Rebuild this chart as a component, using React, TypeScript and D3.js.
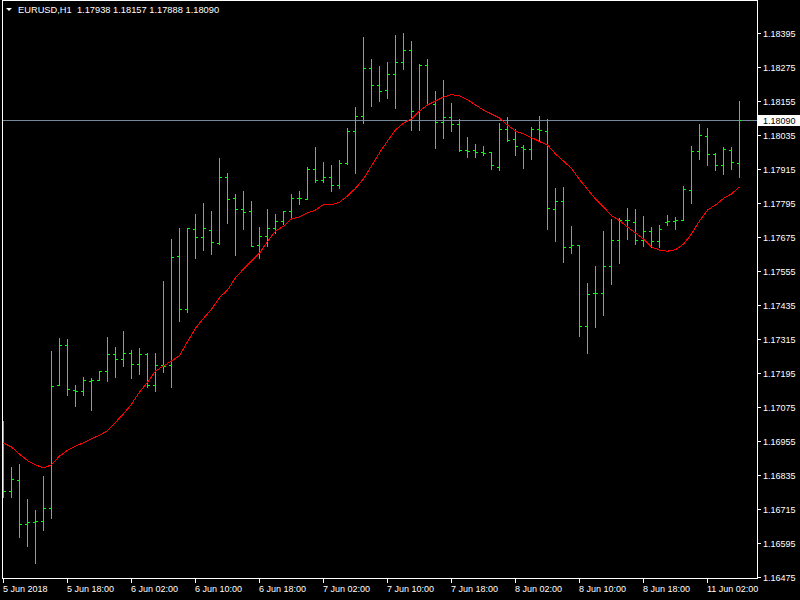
import * as d3 from "d3";

// EURUSD H1 bars
const opens = [
  1.16942, 1.16781, 1.16817, 1.16663, 1.1667, 1.16675, 1.16719, 1.17153, 1.17295, 1.17136,
  1.17134, 1.17168, 1.1717, 1.17203, 1.17262, 1.17244, 1.17266, 1.17227, 1.17263, 1.17153,
  1.17223, 1.17224, 1.17609, 1.17421, 1.17703, 1.17675, 1.177, 1.17654, 1.17887, 1.17813,
  1.17774, 1.17767, 1.17647, 1.17679, 1.17707, 1.17731, 1.17767, 1.17813, 1.17809, 1.17915,
  1.17877, 1.17889, 1.17861, 1.17936, 1.18049, 1.18102, 1.18271, 1.18211, 1.18194, 1.18251,
  1.18293, 1.18335, 1.18117, 1.18283, 1.18145, 1.18082, 1.181, 1.18075, 1.17983, 1.17983,
  1.17976, 1.17976, 1.17923, 1.18057, 1.18022, 1.17994, 1.17987, 1.18057, 1.1805, 1.17775,
  1.17803, 1.17641, 1.17648, 1.17362, 1.17478, 1.17478, 1.17574, 1.17665, 1.17736, 1.17729,
  1.17665, 1.17697, 1.17662, 1.17729, 1.17731, 1.17736, 1.17842, 1.1798, 1.18033, 1.17969,
  1.1793, 1.17983, 1.17938,
];
const highs = [
  1.17028, 1.16865, 1.16875, 1.16751, 1.16713, 1.16833, 1.17274, 1.1732, 1.17316, 1.17154,
  1.17182, 1.17177, 1.17203, 1.17324, 1.17287, 1.17344, 1.17277, 1.17284, 1.17266, 1.17267,
  1.17521, 1.17669, 1.17708, 1.17708, 1.17757, 1.17797, 1.17769, 1.17955, 1.17902, 1.17828,
  1.17838, 1.17803, 1.17711, 1.17775, 1.17757, 1.17768, 1.17828, 1.17838, 1.17923, 1.17994,
  1.17941, 1.1793, 1.17948, 1.18061, 1.18134, 1.18382, 1.18304, 1.1828, 1.18294, 1.18389,
  1.18396, 1.18368, 1.18287, 1.18304, 1.18191, 1.1823, 1.18149, 1.18093, 1.18029, 1.18004,
  1.17997, 1.17976, 1.18078, 1.181, 1.18057, 1.18001, 1.18064, 1.18103, 1.18093, 1.17849,
  1.17853, 1.17715, 1.17648, 1.17514, 1.17574, 1.17697, 1.1774, 1.17743, 1.17778, 1.17775,
  1.1775, 1.17711, 1.17718, 1.17754, 1.17747, 1.17856, 1.17997, 1.18075, 1.18061, 1.17973,
  1.17994, 1.17994, 1.18157,
];
const lows = [
  1.16757, 1.16759, 1.16618, 1.16587, 1.16524, 1.16642, 1.16685, 1.17153, 1.17119, 1.1708,
  1.17118, 1.17065, 1.1717, 1.17169, 1.17181, 1.17222, 1.17179, 1.17192, 1.17146, 1.17134,
  1.17201, 1.17148, 1.17381, 1.17412, 1.17603, 1.1763, 1.17617, 1.1765, 1.17727, 1.17614,
  1.17705, 1.17645, 1.17603, 1.17645, 1.17691, 1.17723, 1.1774, 1.17794, 1.17809, 1.17871,
  1.17871, 1.17839, 1.1785, 1.17935, 1.17903, 1.18079, 1.18139, 1.18157, 1.18168, 1.18132,
  1.1827, 1.18054, 1.18054, 1.18142, 1.1799, 1.18025, 1.1805, 1.1798, 1.17958, 1.17958,
  1.17965, 1.17916, 1.17913, 1.18015, 1.17965, 1.1792, 1.17951, 1.18015, 1.17704, 1.17662,
  1.17588, 1.1762, 1.17327, 1.17267, 1.17358, 1.17401, 1.1751, 1.17584, 1.17669, 1.17651,
  1.17644, 1.17641, 1.17641, 1.17718, 1.17704, 1.17736, 1.17796, 1.17951, 1.1793, 1.17913,
  1.17898, 1.17916, 1.17888,
];
const closes = [
  1.16781, 1.16821, 1.16663, 1.1667, 1.16673, 1.16719, 1.17149, 1.17295, 1.17139, 1.17134,
  1.1717, 1.1717, 1.17203, 1.17262, 1.17244, 1.17266, 1.17227, 1.17262, 1.17153, 1.17223,
  1.17221, 1.17604, 1.17421, 1.17707, 1.17675, 1.17707, 1.17657, 1.17887, 1.17809, 1.17774,
  1.17763, 1.17645, 1.17679, 1.17707, 1.17731, 1.17767, 1.17813, 1.17813, 1.17915, 1.17877,
  1.17889, 1.17861, 1.17936, 1.18049, 1.18102, 1.18271, 1.18211, 1.18191, 1.18251, 1.18293,
  1.18335, 1.1812, 1.18283, 1.18145, 1.18082, 1.181, 1.18075, 1.17983, 1.1798, 1.17976,
  1.17973, 1.1793, 1.18057, 1.18018, 1.17997, 1.17987, 1.18057, 1.18054, 1.17778, 1.17803,
  1.17641, 1.17648, 1.17362, 1.17475, 1.17478, 1.17574, 1.17665, 1.17736, 1.17736, 1.17665,
  1.17697, 1.17662, 1.17704, 1.17731, 1.17736, 1.17845, 1.1798, 1.18036, 1.17969, 1.1793,
  1.17987, 1.17941, 1.1809,
];
// moving average (red line)
const maValues = [
  1.16949, 1.16935, 1.1691, 1.16887, 1.16872, 1.16861, 1.16872, 1.16903, 1.16923, 1.16938,
  1.1695, 1.16964, 1.16976, 1.16992, 1.17022, 1.17052, 1.17086, 1.17129, 1.17163, 1.17203,
  1.17221, 1.17238, 1.17257, 1.17307, 1.17354, 1.17389, 1.17421, 1.17462, 1.17489, 1.17532,
  1.17563, 1.17592, 1.17619, 1.1766, 1.17697, 1.17714, 1.1774, 1.17747, 1.17761, 1.17771,
  1.17791, 1.17789, 1.17799, 1.17821, 1.17848, 1.17881, 1.17927, 1.17973, 1.18015, 1.18054,
  1.18078, 1.18093, 1.18121, 1.18142, 1.18156, 1.1817, 1.18179, 1.18174, 1.18161, 1.18142,
  1.18124, 1.1811, 1.18096, 1.18071, 1.1805, 1.1804, 1.18027, 1.18013, 1.18001, 1.17969,
  1.17944, 1.17918, 1.17879, 1.17844, 1.1781, 1.17782, 1.17752, 1.17734, 1.17711, 1.1769,
  1.17669, 1.17641, 1.1763, 1.17626, 1.17631, 1.17651, 1.17687, 1.17733, 1.17771, 1.17789,
  1.17812, 1.17828, 1.17853,
];

const timeLabels = [
  "5 Jun 2018", "5 Jun 18:00", "6 Jun 02:00", "6 Jun 10:00", "6 Jun 18:00", "7 Jun 02:00",
  "7 Jun 10:00", "7 Jun 18:00", "8 Jun 02:00", "8 Jun 10:00", "8 Jun 18:00", "11 Jun 02:00",
];
const barsPerLabel = 8;
const priceTicks = [
  1.18395, 1.18275, 1.18155, 1.18035, 1.17915, 1.17795, 1.17675, 1.17555, 1.17435,
  1.17315, 1.17195, 1.17075, 1.16955, 1.16835, 1.16715, 1.16595, 1.16475,
];
const symbol = "EURUSD,H1";
const bidPrice = 1.1809;

const FONT = "'Liberation Sans', Arial, sans-serif";
const BAR_COLOR = "#00ff00";

export default function App() {
  const width = 800;
  const height = 600;
  const plot = { left: 2.5, right: 757.5, top: 0.5, bottom: 578.5 };

  const x = d3.scaleLinear().domain([0, closes.length - 1]).range([3, 739]);
  const y = d3
    .scaleLinear()
    .domain([priceTicks[priceTicks.length - 1], priceTicks[0]])
    .range([577.3, 33.3]);

  const px = (i: number) => Math.round(x(i)) + 0.5;
  const py = (v: number) => Math.round(y(v)) + 0.5;

  const maLine = d3
    .line<number>()
    .x((_, i) => px(i))
    .y((d) => y(d));

  const last = closes.length - 1;
  const header = `${symbol}  ${opens[last].toFixed(5)} ${highs[last].toFixed(5)} ${lows[last].toFixed(5)} ${closes[last].toFixed(5)}`;

  return (
    <div style={{ position: "fixed", left: 0, top: 0, width, height, background: "#000" }}>
      <svg width={width} height={height} style={{ display: "block" }}>
        <rect width={width} height={height} fill="#000" />
        <defs>
          <clipPath id="plotClip">
            <rect x={plot.left} y={plot.top} width={plot.right - plot.left} height={plot.bottom - plot.top} />
          </clipPath>
        </defs>

        <g clipPath="url(#plotClip)" shapeRendering="crispEdges">
          {/* bid line */}
          <line x1={plot.left} x2={plot.right} y1={py(bidPrice)} y2={py(bidPrice)} stroke="#778899" />

          {/* OHLC bars */}
          {closes.map((c, i) => {
            const cx = px(i);
            return (
              <g key={i} stroke={BAR_COLOR}>
                <line x1={cx} x2={cx} y1={py(highs[i]) - 0.5} y2={py(lows[i]) + 0.5} />
                <line x1={cx - 2.5} x2={cx} y1={py(opens[i])} y2={py(opens[i])} />
                <line x1={cx} x2={cx + 2.5} y1={py(c)} y2={py(c)} />
              </g>
            );
          })}

          {/* moving average */}
          <path d={maLine(maValues) || ""} fill="none" stroke="#ff0000" strokeWidth={1} />
        </g>

        {/* frame */}
        <rect
          x={plot.left}
          y={plot.top}
          width={plot.right - plot.left}
          height={plot.bottom - plot.top}
          fill="none"
          stroke="#fff"
          shapeRendering="crispEdges"
        />

        {/* price axis */}
        {priceTicks.map((t) => (
          <g key={t}>
            <line x1={plot.right} x2={plot.right + 3} y1={py(t)} y2={py(t)} stroke="#fff" shapeRendering="crispEdges" />
            <text x={763} y={py(t)} dy="0.35em" fill="#fff" fontFamily={FONT} fontSize={9}>
              {t.toFixed(5)}
            </text>
          </g>
        ))}

        {/* current price box */}
        <rect x={plot.right + 0.5} y={py(bidPrice) - 5.5} width={width - plot.right} height={11} fill="#fff" />
        <text x={763} y={py(bidPrice)} dy="0.35em" fill="#000" fontFamily={FONT} fontSize={9}>
          {bidPrice.toFixed(5)}
        </text>

        {/* time axis */}
        {timeLabels.map((lab, k) => {
          const tx = px(k * barsPerLabel);
          return (
            <g key={lab}>
              <line x1={tx} x2={tx} y1={plot.bottom} y2={plot.bottom + 4} stroke="#fff" shapeRendering="crispEdges" />
              <text x={tx - 0.5} y={589} dy="0.35em" fill="#fff" fontFamily={FONT} fontSize={9}>
                {lab}
              </text>
            </g>
          );
        })}

        {/* header */}
        <path d="M6,8 L12,8 L9,11 Z" fill="#fff" />
        <text x={18} y={10} dy="0.35em" fill="#fff" fontFamily={FONT} fontSize={9.3}>
          {header.replace("  ", "\u00a0\u00a0")}
        </text>
      </svg>
    </div>
  );
}
